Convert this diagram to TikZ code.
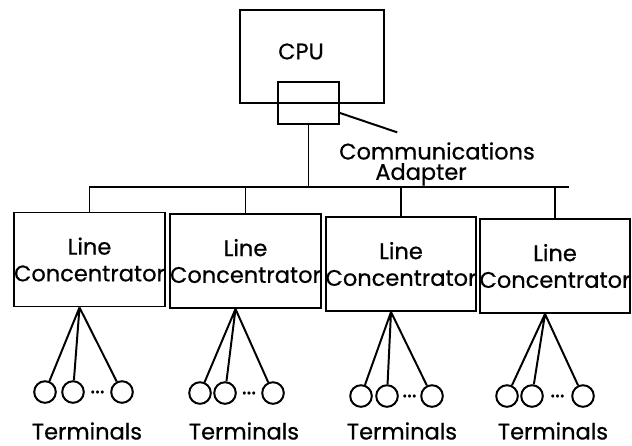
\documentclass[tikz,border=0pt]{standalone}
\usepackage{fontspec}
\setmainfont{Poppins}[FakeBold=0.6]
\usetikzlibrary{positioning, calc}

\begin{document}
\begin{tikzpicture}[
    x=0.25mm, y=-0.25mm,
    font=\fontsize{16}{19}\selectfont,
    line width=1.4pt,
    unitbox/.style={
        rectangle, draw, minimum width=36.5mm, minimum height=23.5mm,
        align=center, inner sep=0pt
    },
    adapterbox/.style={
        rectangle, draw, minimum width=15.25mm, minimum height=10.5mm,
        inner sep=0pt
    },
    term/.style={circle, draw, minimum size=5.4mm, inner sep=0pt},
    tdots/.style={inner sep=0pt},
    caption/.style={inner sep=0pt, align=center},
]

% --- Page frame --------------------------------------------------------------
\useasboundingbox (0,0) rectangle (632,445);

% --- Host and its adapter ----------------------------------------------------
\node[unitbox, minimum width=36mm, minimum height=23.25mm,
      label={[shift={(-11,-5)}]center:CPU}] (cpu) at (312,56.5) {};
\node[adapterbox] (adapter) at (308.5,103) {};
\node[caption, font=\fontsize{16}{14.5}\selectfont] (comm) at (437,164)
    {Communications\\Adapter\hspace*{8mm}};
\draw ([yshift=-2.5mm]adapter.east) --
    ([xshift=14.75mm, yshift=2.25mm]comm.north west);

% --- Line concentrators ------------------------------------------------------
\node[unitbox] (lc1) at ( 89.5,259.5) {Line\\Concentrator};
\node[unitbox] (lc2) at (245.5,261)   {Line\\Concentrator};
\node[unitbox] (lc3) at (401,  264)   {Line\\Concentrator};
\node[unitbox] (lc4) at (555,  266)   {Line\\Concentrator};

% --- Shared line: adapter down to the bus, bus down to each box -------------
\coordinate (busr) at (569,187);
\draw (lc1.north) |- (busr);
\draw (adapter.south) -- (adapter.south |- busr);
\draw (lc2.north) -- (lc2.north |- busr);
\draw (lc3.north) -- (lc3.north |- busr);
\draw (lc4.north) -- (lc4.north |- busr);

% --- Terminals, group 1 ------------------------------------------------------
\coordinate (ap1) at ([xshift=-2.5mm]lc1.south);
\node[term] (t11) at ( 45,392) {};
\node[term] (t12) at ( 73,392) {};
\node[term] (t13) at (122,392) {};
\node[tdots] (d1) at ($(t12)!0.5!(t13)$) {...};
\draw (ap1) -- (t11) (ap1) -- (t12) (ap1) -- (t13);
\node[caption] (term1) at (87,431) {Terminals};

% --- Terminals, group 2 ------------------------------------------------------
\coordinate (ap2) at ([xshift=-2.5mm]lc2.south);
\node[term] (t21) at (200,393) {};
\node[term] (t22) at (225,393) {};
\node[term] (t23) at (273,393) {};
\node[tdots] (d2) at ($(t22)!0.5!(t23)$) {...};
\draw (ap2) -- (t21) (ap2) -- (t22) (ap2) -- (t23);
\node[caption] (term2) at (244,431) {Terminals};

% --- Terminals, group 3 ------------------------------------------------------
\coordinate (ap3) at ([xshift=-2.5mm]lc3.south);
\node[term] (t31) at (361,396) {};
\node[term] (t32) at (387,396) {};
\node[term] (t33) at (432,396) {};
\node[tdots] (d3) at ($(t32)!0.5!(t33)$) {...};
\draw (ap3) -- (t31) (ap3) -- (t32) (ap3) -- (t33);
\node[caption] (term3) at (402,431) {Terminals};

% --- Terminals, group 4 ------------------------------------------------------
\coordinate (ap4) at ([xshift=-2.5mm]lc4.south);
\node[term] (t41) at (507,396) {};
\node[term] (t42) at (532,396) {};
\node[term] (t43) at (583,396) {};
\node[tdots] (d4) at ($(t42)!0.5!(t43)$) {...};
\draw (ap4) -- (t41) (ap4) -- (t42) (ap4) -- (t43);
\node[caption] (term4) at (553,431) {Terminals};

\end{tikzpicture}
\end{document}
